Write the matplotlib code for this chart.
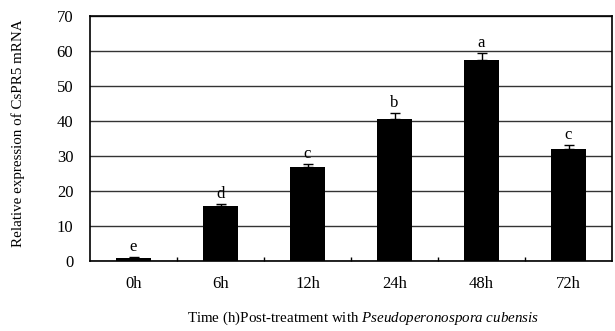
import matplotlib
matplotlib.use('Agg')
import matplotlib.pyplot as plt
import numpy as np

# data
times = ['0h', '6h', '12h', '24h', '48h', '72h']
expr = [1.0, 15.7, 26.9, 40.6, 57.3, 32.0]
err = [0.2, 0.5, 0.8, 1.6, 2.0, 1.1]
letters = ['e', 'd', 'c', 'b', 'a', 'c']

plt.rcParams['font.family'] = 'Liberation Serif'
plt.rcParams['mathtext.fontset'] = 'custom'
plt.rcParams['mathtext.rm'] = 'Liberation Serif'
plt.rcParams['mathtext.it'] = 'Liberation Serif:italic'

fig = plt.figure(figsize=(6.15, 3.31), dpi=100)
ax = fig.add_axes([90/615, 1 - 261/331, 522/615, 245/331])

x = np.arange(len(times))
ax.set_axisbelow(True)
ax.grid(True, axis='y', color='#333333', lw=1.0)
ax.bar(x, expr, width=0.41, color='black', zorder=3)
ax.errorbar(x, expr, yerr=[np.zeros(len(err)), err], fmt='none', ecolor='black',
            elinewidth=1, capsize=3.5, capthick=1, zorder=4)

for xi, v, e, l in zip(x, expr, err, letters):
    ax.text(xi, v + e + 0.6, l, ha='center', va='bottom', fontsize=12)

ax.set_xlim(-0.5, len(times) - 0.5)
ax.set_ylim(0, 70)
ax.set_yticks(range(0, 71, 10))
ax.set_xticks(x)
ax.set_xticklabels(times, fontsize=12)
ax.set_xticks(np.arange(0.5, len(times) - 1, 1), minor=True)
ax.tick_params(axis='x', which='major', length=0, pad=11)
ax.tick_params(axis='x', which='minor', direction='in', length=3, width=1)
ax.tick_params(axis='y', length=0, labelsize=12, pad=12)
for s in ax.spines.values():
    s.set_linewidth(1.2)

ax.set_ylabel('Relative expression of CsPR5 mRNA', fontsize=10.8, labelpad=17)
ax.yaxis.set_label_coords(-0.125, 0.52)
fig.text(363/615, 1 - 318/331,
         r'Time (h)Post-treatment with $\it{Pseudoperonospora\ cubensis}$',
         ha='center', va='center', fontsize=10.8)

plt.savefig('out.png', dpi=100)
